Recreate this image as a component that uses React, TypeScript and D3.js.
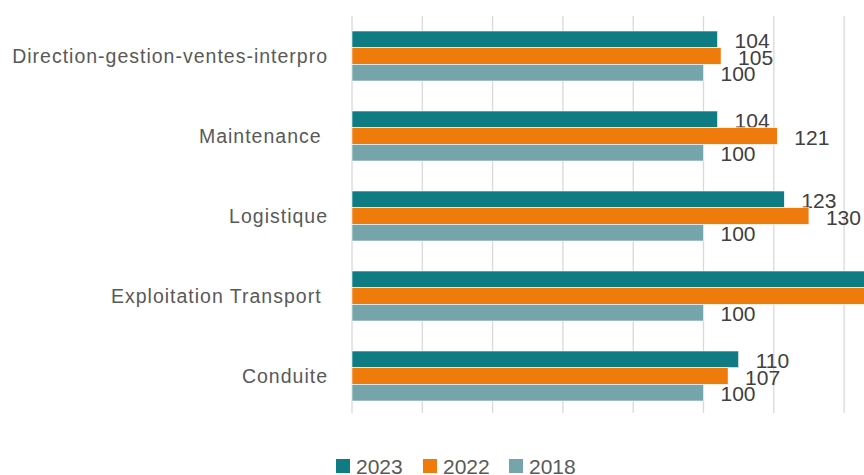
import React from "react";
import * as d3 from "d3";

const categories = [
  "Direction-gestion-ventes-interpro",
  "Maintenance ",
  "Logistique",
  "Exploitation Transport ",
  "Conduite",
];
const seriesNames = ["2023", "2022", "2018"];
const values2023 = [104, 104, 123, 152, 110];
const values2022 = [105, 121, 130, 150, 107];
const values2018 = [100, 100, 100, 100, 100];
const gridTicks = [0, 20, 40, 60, 80, 100, 120, 140, 160];

const colors = ["#0E7C82", "#EE7B0C", "#75A5AA"];
const FONT = "'Liberation Sans', Arial, sans-serif";

export default function App() {
  const W = 864;
  const H = 475;
  const x0 = 352;
  const top = 16;
  const bottom = 416;
  const x = d3.scaleLinear().domain([0, 100]).range([x0, 703.5]);
  const y = d3.scaleBand<string>().domain(categories).range([top, bottom]).paddingInner(0.375).paddingOuter(0.1875);
  const series = [values2023, values2022, values2018];
  const inner = d3.scaleBand<string>().domain(seriesNames).range([0, y.bandwidth()]);

  const legendX = [336, 423, 509];

  return (
    <svg width={W} height={H} style={{ position: "absolute", left: 0, top: 0, background: "#fff" }}>
      <rect width={W} height={H} fill="#fff" />
      {gridTicks.map((t) => (
        <line key={t} x1={x(t)} x2={x(t)} y1={top} y2={413} stroke="#D9D9D9" strokeWidth={1.3} />
      ))}
      {categories.map((c, i) => (
        <g key={c}>
          <text
            x={328}
            y={(y(c) as number) + y.bandwidth() / 2}
            textAnchor="end"
            dominantBaseline="central"
            fontFamily={FONT}
            fontSize={19.5}
            letterSpacing={1}
            fill="#595959"
            style={{ whiteSpace: "pre" }}
          >
            {c}
          </text>
          {seriesNames.map((s, j) => {
            const v = series[j][i];
            const by = (y(c) as number) + (inner(s) as number);
            return (
              <g key={s}>
                <rect x={x(0)} y={by} width={x(v) - x(0)} height={inner.bandwidth()} fill={colors[j]} stroke="#fff" strokeWidth={0.6} />
                <text
                  x={x(v) + 17}
                  y={by + inner.bandwidth() / 2 + 1}
                  dominantBaseline="central"
                  fontFamily={FONT}
                  fontSize={21}
                  fill="#404040"
                >
                  {v}
                </text>
              </g>
            );
          })}
        </g>
      ))}
      {seriesNames.map((s, j) => (
        <g key={s}>
          <rect x={legendX[j]} y={459} width={14} height={14} fill={colors[j]} />
          <text x={legendX[j] + 20} y={466} dominantBaseline="central" fontFamily={FONT} fontSize={21} fill="#595959">
            {s}
          </text>
        </g>
      ))}
    </svg>
  );
}
